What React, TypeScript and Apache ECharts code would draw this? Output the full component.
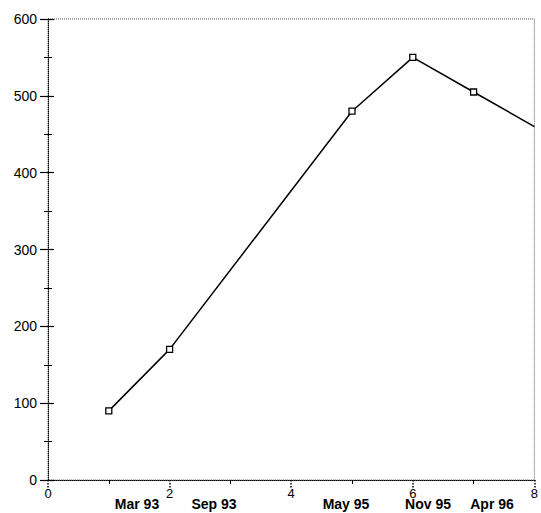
import React, { useEffect, useRef } from "react";
import * as echarts from "echarts";

const xValues = [1, 2, 5, 6, 7, 8];
const yValues = [90, 170, 480, 550, 505, 460];
const markerShown = [true, true, true, true, true, false];
const dateLabels = ["Mar 93", "Sep 93", "May 95", "Nov 95", "Apr 96"];
const dateLabelX = [137, 214, 346, 428, 492];
const yTickLabels = ["0", "100", "200", "300", "400", "500", "600"];

export default function App() {
  const ref = useRef<HTMLDivElement>(null);
  useEffect(() => {
    if (!ref.current) return;
    const chart = echarts.init(ref.current, null, { renderer: "svg" });
    const font = "Liberation Sans, Arial, sans-serif";
    const lineStyle = { color: "#000", width: 1, type: "dotted" as const };
    chart.setOption({
      animation: false,
      backgroundColor: "#fff",
      grid: {
        left: 48,
        right: 4,
        top: 19,
        bottom: 33,
        show: true,
        borderColor: "#555",
        borderWidth: 1,
        borderType: "dotted",
      },
      xAxis: {
        type: "value",
        min: 0,
        max: 8,
        interval: 2,
        axisLine: { show: true, lineStyle },
        axisTick: { show: true, length: 9, lineStyle: { color: "#000", type: "dotted", width: 1.5 } },
        minorTick: { show: true, splitNumber: 2, length: 4, lineStyle: { color: "#000", width: 1 } },
        splitLine: { show: false },
        axisLabel: { color: "#000", fontSize: 13, fontFamily: font, margin: 7 },
      },
      yAxis: [
        {
          type: "value",
          min: 0,
          max: 600,
          interval: 100,
          position: "left",
          axisLine: { show: true, lineStyle },
          axisTick: { show: true, length: 8, lineStyle: { color: "#000", width: 1.2 } },
          minorTick: { show: true, splitNumber: 2, length: 4, lineStyle: { color: "#000", width: 1 } },
          splitLine: { show: false },
          axisLabel: {
            color: "#000",
            fontSize: 14,
            fontFamily: font,
            margin: 11,
            formatter: (v: number) => yTickLabels[Math.round(v / 100)] ?? String(v),
          },
        },
        {
          type: "value",
          min: 0,
          max: 600,
          interval: 100,
          position: "left",
          offset: 0,
          axisLine: { show: false },
          axisTick: { show: true, inside: true, length: 6, lineStyle: { color: "#000", width: 1.2 } },
          minorTick: { show: true, splitNumber: 2, length: 4, lineStyle: { color: "#000", width: 1 } },
          splitLine: { show: false },
          axisLabel: { show: false },
        },
      ],
      series: [
        {
          type: "line",
          yAxisIndex: 0,
          data: xValues.map((x, i) => ({
            value: [x, yValues[i]],
            symbol: markerShown[i] ? "rect" : "none",
          })),
          symbolSize: 6,
          itemStyle: { color: "#fff", borderColor: "#000", borderWidth: 1.3 },
          lineStyle: { color: "#000", width: 1.5 },
          z: 5,
        },
      ],
      graphic: dateLabels.map((t, i) => ({
        type: "text",
        x: dateLabelX[i],
        y: 504,
        style: {
          text: t,
          fill: "#000",
          font: `bold 14px ${font}`,
          textAlign: "center",
          textVerticalAlign: "middle",
        },
      })),
    });
    return () => chart.dispose();
  }, []);
  return <div ref={ref} style={{ width: 541, height: 513, position: "absolute", left: 0, top: 0 }} />;
}
